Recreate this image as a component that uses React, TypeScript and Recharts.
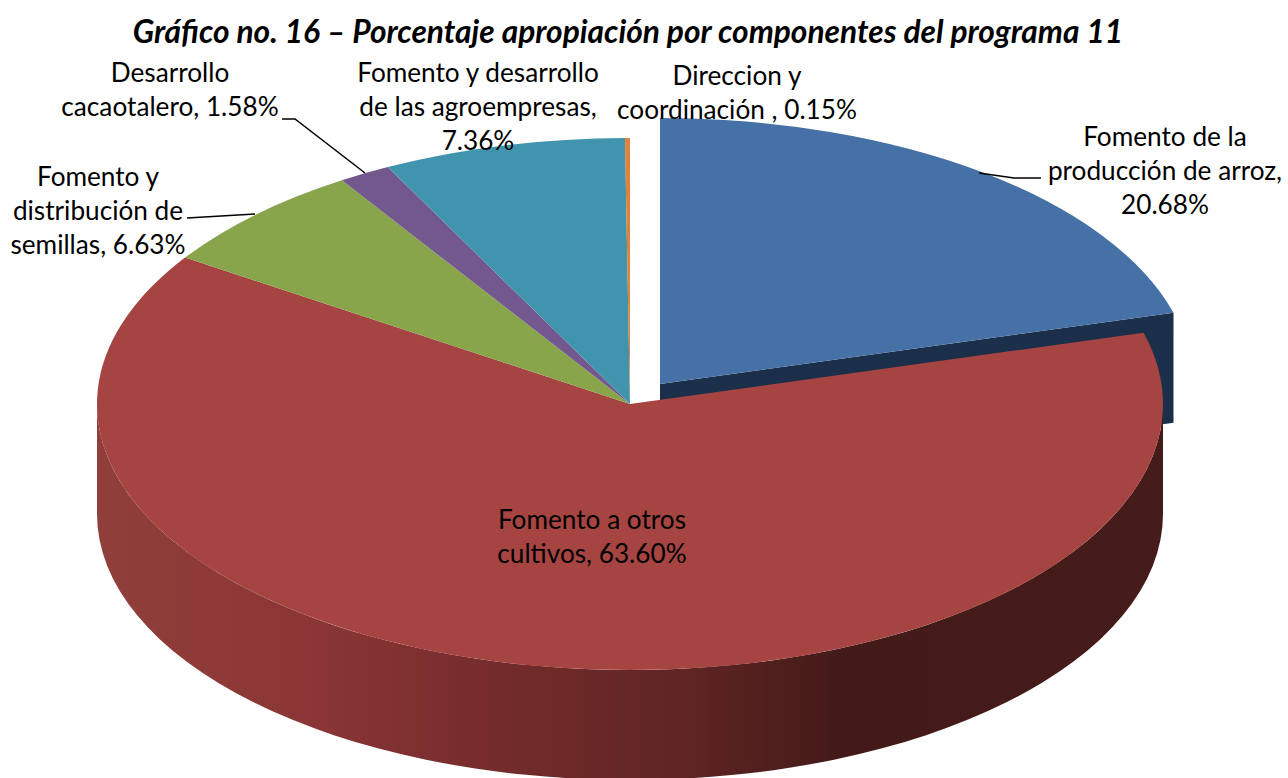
import { PieChart, Pie, Cell } from 'recharts';

const names = [
  'Fomento de la producción de arroz',
  'Fomento a otros cultivos',
  'Fomento y distribución de semillas',
  'Desarrollo cacaotalero',
  'Fomento y desarrollo de las agroempresas',
  'Direccion y coordinación',
];
const values = [20.68, 63.6, 6.63, 1.58, 7.36, 0.15];
const COLORS = ['#4671a6', '#a64442', '#88a54c', '#73588e', '#4094ae', '#dd843a'];
const labelLines = [
  ['Fomento de la', 'producción de arroz,', '20.68%'],
  ['Fomento a otros', 'cultivos, 63.60%'],
  ['Fomento y', 'distribución de', 'semillas, 6.63%'],
  ['Desarrollo', 'cacaotalero, 1.58%'],
  ['Fomento y desarrollo', 'de las agroempresas,', '7.36%'],
  ['Direccion y', 'coordinación , 0.15%'],
];

const data = names.map((name, i) => ({ name, value: values[i] }));

// text anchor (centre x, first baseline) and leader line for each label
const LABEL_POS = [
  { x: 1165, y: 146, line: '979,173 1014,178 1041,178' },
  { x: 592, y: 529, line: '' },
  { x: 98, y: 186, line: '187,218 255,214' },
  { x: 170, y: 82, line: '282,119 295,119 365,173' },
  { x: 478, y: 82, line: '' },
  { x: 737, y: 85, line: '' },
];

const RATIO = 0.499;
const DEPTH = 110;
const EXPLODE = { dx: 30, dy: -20 };
const FONT = 'Lato, Carlito, sans-serif';

const Slice = (props: any) => {
  const { cx, cy, outerRadius: r, startAngle, endAngle, fill, name } = props;
  const exploded = name === names[0];
  const ox = cx + (exploded ? EXPLODE.dx : 0);
  const oy = cy + (exploded ? EXPLODE.dy : 0);
  const ry = r * RATIO;
  const pt = (a: number, drop = 0) => {
    const rad = (a * Math.PI) / 180;
    return `${ox + r * Math.cos(rad)},${oy - ry * Math.sin(rad) + drop}`;
  };
  const large = Math.abs(endAngle - startAngle) > 180 ? 1 : 0;
  const top = `M${ox},${oy} L${pt(startAngle)} A${r},${ry} 0 ${large} 1 ${pt(endAngle)} Z`;

  // side wall only on the part of the rim that faces the viewer
  const frontStart = Math.min(startAngle, 0);
  const frontEnd = Math.max(endAngle, -180);
  const wall =
    frontStart > frontEnd
      ? `M${pt(frontStart)} A${r},${ry} 0 0 1 ${pt(frontEnd)} L${pt(frontEnd, DEPTH)} A${r},${ry} 0 0 0 ${pt(frontStart, DEPTH)} Z`
      : null;

  return (
    <g>
      <defs>
        <linearGradient id="redWall" gradientUnits="userSpaceOnUse" x1={cx - r} x2={cx + r} y1={0} y2={0}>
          <stop offset="0" stopColor="#903f3a" />
          <stop offset="0.2" stopColor="#8b3636" />
          <stop offset="0.35" stopColor="#772d2c" />
          <stop offset="0.55" stopColor="#5f2523" />
          <stop offset="0.7" stopColor="#431a18" />
          <stop offset="1" stopColor="#451c19" />
        </linearGradient>
      </defs>
      {exploded && (
        <polygon
          points={`${ox},${oy} ${pt(endAngle)} ${pt(endAngle, DEPTH)} ${ox},${oy + DEPTH}`}
          fill="#1c2f4a"
        />
      )}
      {wall && <path d={wall} fill="url(#redWall)" />}
      <path d={top} fill={fill} />
    </g>
  );
};

const SliceLabel = (props: any) => {
  const { index } = props;
  const pos = LABEL_POS[index];
  return (
    <g>
      {pos.line && <polyline points={pos.line} fill="none" stroke="#000" strokeWidth={1.5} />}
      <text x={pos.x} y={pos.y} textAnchor="middle" fontFamily={FONT} fontSize={26.2} fill="#000">
        {labelLines[index].map((t, i) => (
          <tspan key={t} x={pos.x} dy={i === 0 ? 0 : 34}>
            {t}
          </tspan>
        ))}
      </text>
    </g>
  );
};

export default function App() {
  return (
    <div style={{ position: 'absolute', left: 0, top: 0, width: 1288, height: 778, overflow: 'hidden', background: '#fff' }}>
      <div
        style={{
          position: 'absolute',
          left: 0,
          width: 1256,
          top: 12,
          textAlign: 'center',
          fontFamily: FONT,
          fontWeight: 700,
          fontStyle: 'italic',
          fontSize: 31.7,
          lineHeight: '38px',
          color: '#000',
          whiteSpace: 'nowrap',
        }}
      >
        Gráfico no. 16 – Porcentaje apropiación por componentes del programa 11
      </div>
      <PieChart
        width={1288}
        height={778}
        margin={{ top: 0, right: 0, bottom: 0, left: 0 }}
        style={{ position: 'absolute', left: 0, top: 0 }}
      >
        <Pie
          data={data}
          dataKey="value"
          nameKey="name"
          cx={630}
          cy={404}
          innerRadius={0}
          outerRadius={533}
          startAngle={90}
          endAngle={-270}
          stroke="none"
          shape={Slice}
          label={SliceLabel}
          labelLine={false}
          isAnimationActive={false}
        >
          {data.map((entry, index) => (
            <Cell key={`cell-${index}`} fill={COLORS[index]} />
          ))}
        </Pie>
      </PieChart>
    </div>
  );
}
